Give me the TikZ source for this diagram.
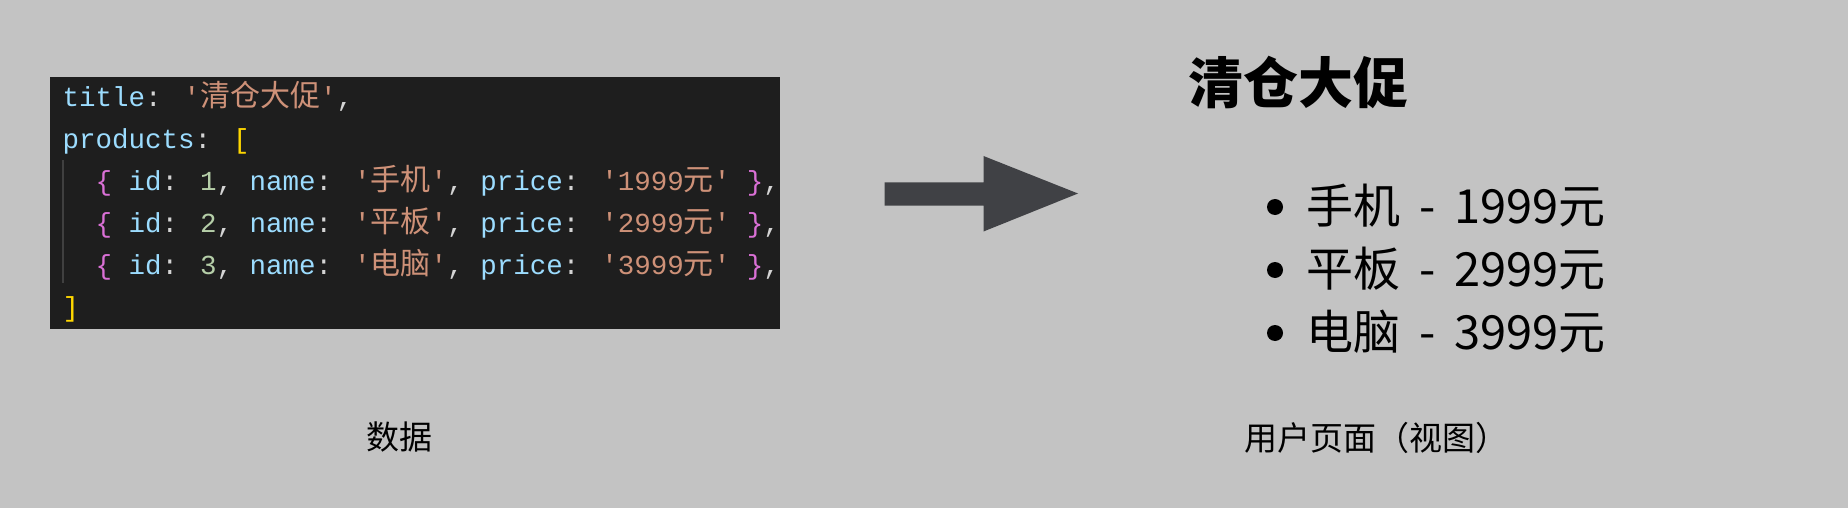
\documentclass[tikz,border=0pt]{standalone}
\usepackage{fontspec}
\newfontfamily\cjk{Noto Sans CJK SC}
\newfontfamily\codefont{Liberation Mono}
\definecolor{bgc}{HTML}{C3C3C3}
\definecolor{codebg}{HTML}{1E1E1E}
\definecolor{keyc}{HTML}{9CDCFE}
\definecolor{strc}{HTML}{CE9178}
\definecolor{numc}{HTML}{B5CEA8}
\definecolor{punc}{HTML}{D4D4D4}
\definecolor{yelc}{HTML}{FFD700}
\definecolor{purc}{HTML}{DA70D6}
\definecolor{arrowc}{HTML}{404145}
\definecolor{guidec}{HTML}{404040}
\newcommand\codecjk{\cjk\fontsize{30}{30}\selectfont}
\newcommand\ckey[1]{\textcolor{keyc}{#1}}
\newcommand\cstr[1]{\textcolor{strc}{#1}}
\newcommand\cnum[1]{\textcolor{numc}{#1}}
\newcommand\cpun[1]{\textcolor{punc}{#1}}
\newcommand\cyel[1]{\textcolor{yelc}{#1}}
\newcommand\cpur[1]{\textcolor{purc}{#1}}
\newcommand\dashsep{\hspace{19pt}-\hspace{19pt}}
\tikzset{
  codeline/.style={anchor=base west, inner sep=0pt, font=\codefont\fontsize{27.5}{30}\selectfont},
  viewline/.style={anchor=base west, inner sep=0pt, font=\cjk\fontsize{47}{50}\selectfont},
  bulletdot/.style={circle, fill=black, inner sep=0pt, minimum size=16pt},
  caption/.style={anchor=base west, inner sep=0pt, font=\cjk\fontsize{33}{36}\selectfont},
}
\begin{document}
\begin{tikzpicture}[x=1pt,y=-1pt]
\fill[bgc] (0,0) rectangle (1848,508);
\useasboundingbox (0,0) rectangle (1848,508);
% code box
\node[fill=codebg, inner sep=0pt, minimum width=730.5pt, minimum height=252.5pt, anchor=north west] (code) at (49.5,76.6) {};
\draw[guidec, line width=1.5pt] (63,160) coordinate (g1) -- (63,283) coordinate (g2);
\node[codeline] (l1) at (62.5,107) {\ckey{title}\cpun{:} \cstr{'{\codecjk 清仓大促}'}\cpun{,}};
\node[codeline] (l2) at (62.5,148.8) {\ckey{products}\cpun{:} \cyel{[}};
\node[codeline] (l3) at (95.5,190.6) {\cpur{\{} \ckey{id}\cpun{:} \cnum{1}\cpun{,} \ckey{name}\cpun{:} \cstr{'{\codecjk 手机}'}\cpun{,} \ckey{price}\cpun{:} \cstr{'1999{\codecjk 元}'} \cpur{\}}\cpun{,}};
\node[codeline] (l4) at (95.5,232.4) {\cpur{\{} \ckey{id}\cpun{:} \cnum{2}\cpun{,} \ckey{name}\cpun{:} \cstr{'{\codecjk 平板}'}\cpun{,} \ckey{price}\cpun{:} \cstr{'2999{\codecjk 元}'} \cpur{\}}\cpun{,}};
\node[codeline] (l5) at (95.5,274.2) {\cpur{\{} \ckey{id}\cpun{:} \cnum{3}\cpun{,} \ckey{name}\cpun{:} \cstr{'{\codecjk 电脑}'}\cpun{,} \ckey{price}\cpun{:} \cstr{'3999{\codecjk 元}'} \cpur{\}}\cpun{,}};
\node[codeline] (l6) at (62.5,316) {\cyel{]}};
% arrow
\coordinate (atail) at (884.5,194);
\coordinate (atip) at (1078,193.5);
\fill[arrowc] (884.5,182.5) -- (983.5,182.5) -- (983.5,156) -- (atip) -- (983.5,231.5) -- (983.5,205.5) -- (884.5,205.5) -- cycle;
% view
\node[anchor=base, inner sep=0pt, font=\cjk\bfseries\fontsize{55}{60}\selectfont] (title) at (1298,104) {清仓大促};
\node[bulletdot] (b1) at (1275,207) {};
\node[bulletdot] (b2) at (1275,270) {};
\node[bulletdot] (b3) at (1275,333) {};
\node[viewline] (v1) at (1306,223) {手机\dashsep 1999元};
\node[viewline] (v2) at (1306,286) {平板\dashsep 2999元};
\node[viewline] (v3) at (1306,349) {电脑\dashsep 3999元};
% captions
\node[caption] (cap1) at (366,449) {数据};
\node[caption] (cap2) at (1244,450) {用户页面（视图）};
\end{tikzpicture}
\end{document}
